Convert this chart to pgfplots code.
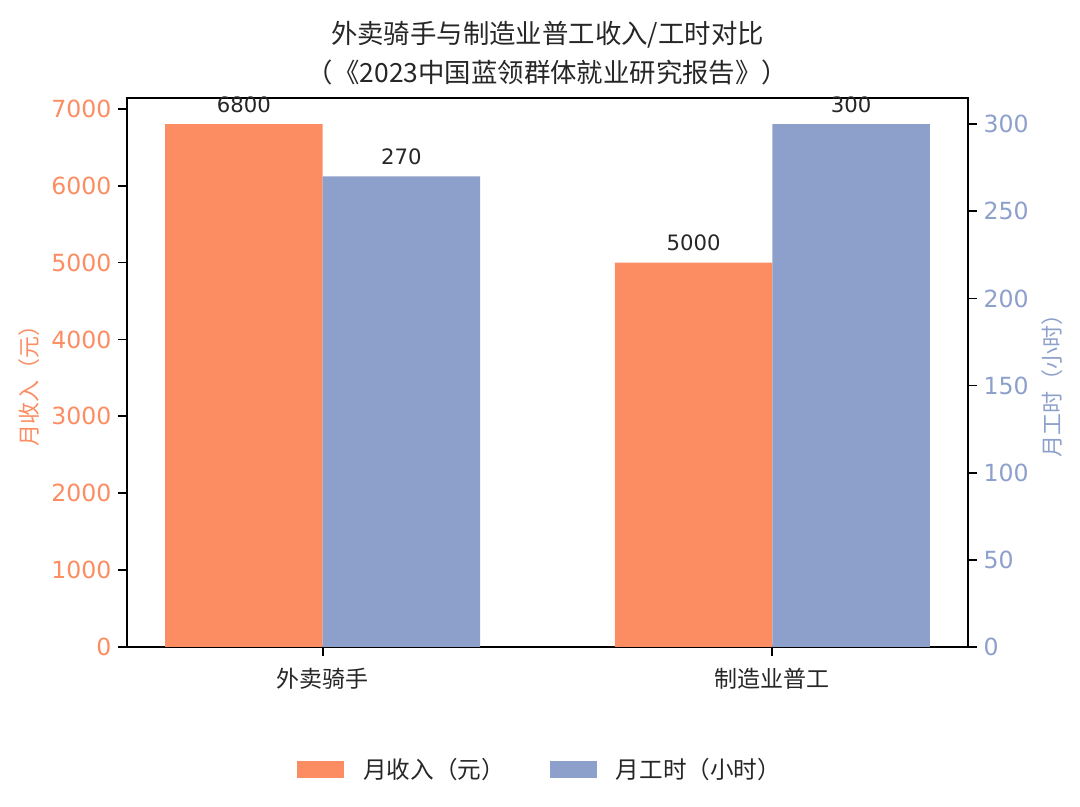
\documentclass[border=0pt]{standalone}
\usepackage{pgfplots}
\pgfplotsset{compat=1.18}
\usepackage{fontspec}
\setmainfont{Noto Sans CJK SC}
\newfontfamily\numfont{DejaVu Sans}
\definecolor{cOr}{HTML}{FC8D62}
\definecolor{cBl}{HTML}{8DA0CB}
\definecolor{cTx}{HTML}{262626}
\begin{document}
\begin{tikzpicture}
\path[use as bounding box] (-63.5pt,-80pt) rectangle (476.5pt,323.5pt);
\pgfplotsset{
  base/.style={
    scale only axis, width=420.5pt, height=274.5pt,
    at={(0,0)}, anchor=south west,
    xmin=-0.435, xmax=1.435,
    /pgf/number format/assume math mode=true,
    /pgf/number format/1000 sep={},
    scaled y ticks=false,
    axis line style={line width=0.9pt, black},
    major tick length=4.3pt,
    tick style={line width=0.9pt, black},
    tick align=outside,
    ybar, bar width=0.35,
    nodes near coords,
    nodes near coords style={font=\numfont\fontsize{10.6}{12}\selectfont, color=cTx, anchor=south, inner sep=0pt, yshift=5.5pt},
  }
}
\begin{axis}[base, name=ax1,
  ymin=0, ymax=7140,
  ytick={0,1000,...,7000},
  ytick pos=left, xtick pos=bottom,
  xtick={0,1}, xticklabels={外卖骑手,制造业普工},
  xticklabel style={font=\fontsize{11.5}{13}\selectfont, color=cTx, yshift=-2.5pt},
  yticklabel style={font=\numfont\fontsize{11.8}{14}\selectfont, color=cOr},
  every axis y label/.style={at={(axis description cs:0,0.4863)}, rotate=90, anchor=center, yshift=49pt, font=\fontsize{11}{12}\selectfont, color=cOr},
  ylabel={月收入（元）},
  legend style={at={(axis description cs:0.2021,-0.2231)}, anchor=west, draw=none, fill=none, inner sep=0pt,
    font=\fontsize{11.8}{13}\selectfont, text=cTx, legend columns=2,
    /tikz/every odd column/.append style={column sep=7.5pt},
    /tikz/every even column/.append style={column sep=20.5pt}},
  legend image code/.code={\fill[#1] (0pt,-4.25pt) rectangle (23.5pt,4.25pt);},
]
\addplot[fill=cOr, draw=none] coordinates {(-0.175,6800) (0.825,5000)};
\addlegendentry{月收入（元）}
\addlegendimage{fill=cBl, draw=none}
\addlegendentry{月工时（小时）}
\end{axis}
\begin{axis}[base,
  ymin=0, ymax=315,
  ytick={0,50,...,300},
  axis y line*=right,
  axis x line=none,
  yticklabel style={font=\numfont\fontsize{11.8}{14}\selectfont, color=cBl},
  every axis y label/.style={at={(axis description cs:1,0.4863)}, rotate=90, anchor=center, yshift=-42pt, font=\fontsize{11}{12}\selectfont, color=cBl},
  ylabel={月工时（小时）},
]
\addplot[fill=cBl, draw=none] coordinates {(0.175,270) (1.175,300)};
\end{axis}
\node[font=\fontsize{13.2}{14}\selectfont, color=cTx, anchor=center, yshift=31.5pt] at (ax1.north) {外卖骑手与制造业普工收入/工时对比};
\node[font=\fontsize{13.2}{14}\selectfont, color=cTx, anchor=center, yshift=13pt] at (ax1.north) {（《2023中国蓝领群体就业研究报告》）};
\end{tikzpicture}
\end{document}
